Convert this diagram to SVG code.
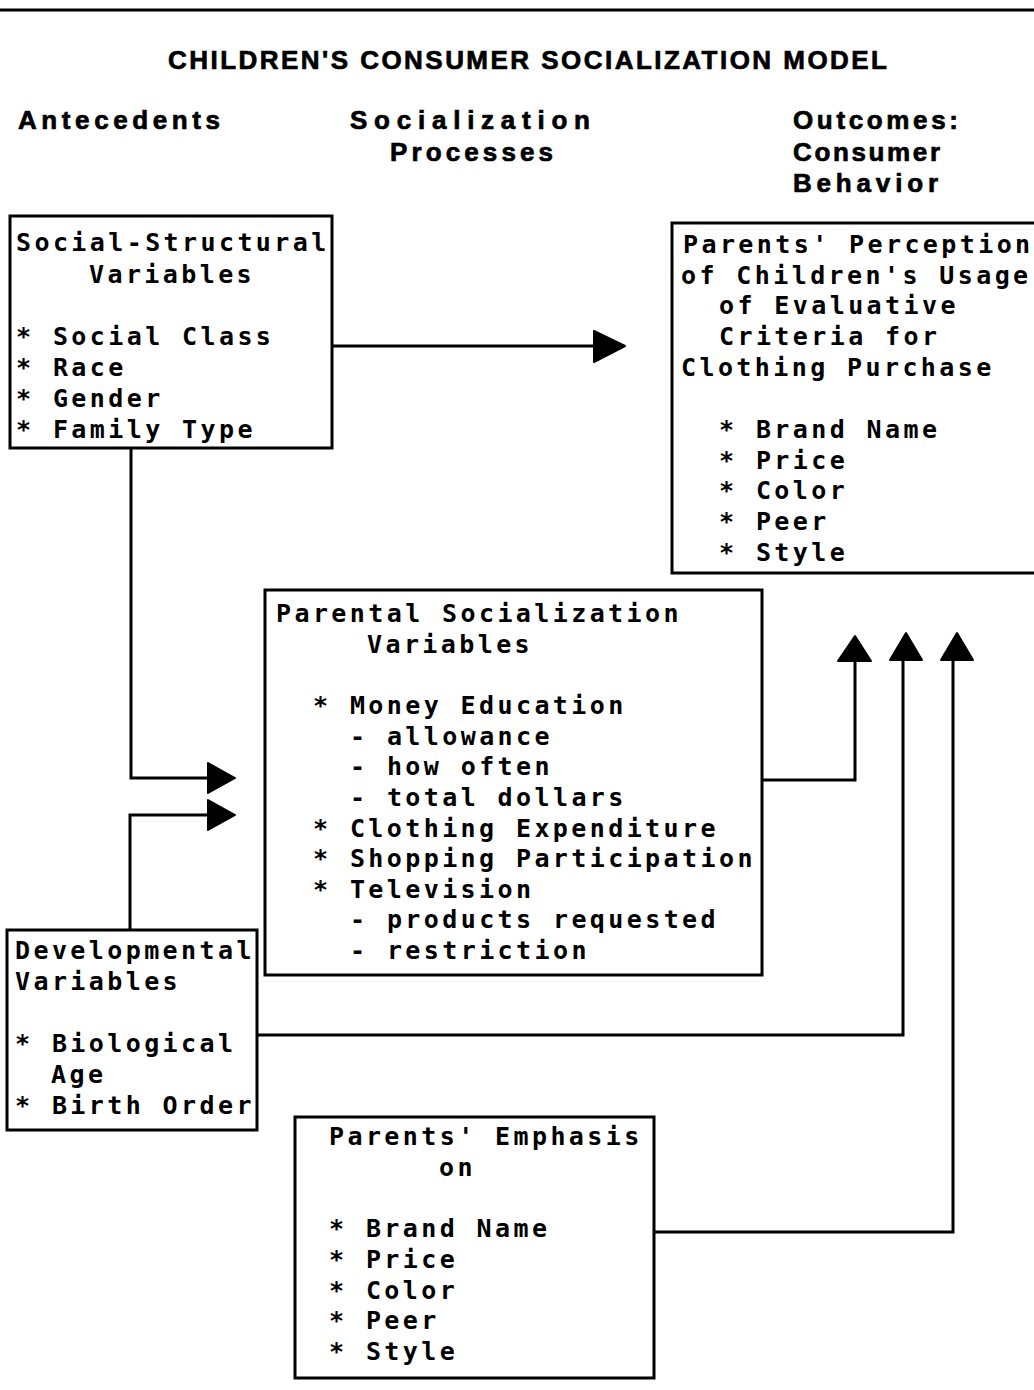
<svg xmlns="http://www.w3.org/2000/svg" width="1034" height="1390" viewBox="0 0 1034 1390">
<style>
.bg{fill:#fff}
.box{fill:none;stroke:#000;stroke-width:3}
.t{font-family:"DejaVu Sans Mono","Liberation Mono",monospace;font-weight:bold;font-size:25px;letter-spacing:3.4px;fill:#000}
.h{font-family:"Liberation Sans","Arial",sans-serif;font-weight:bold;font-size:26px;fill:#000;stroke:#000;stroke-width:0.7px}
.ti{font-family:"Liberation Sans","Arial",sans-serif;font-weight:bold;font-size:26px;fill:#000;stroke:#000;stroke-width:0.7px}
.c{fill:none;stroke:#000;stroke-width:3;stroke-linejoin:miter}
.ah{fill:#000;stroke:#000;stroke-width:2;stroke-linejoin:round}
</style>
<rect class="bg" x="0" y="0" width="1034" height="1390"/>
<line x1="0" y1="10" x2="1034" y2="10" stroke="#000" stroke-width="3"/>

<g id="title">
<text class="ti" x="168" y="69" textLength="719">CHILDREN'S CONSUMER SOCIALIZATION MODEL</text>
</g>
<g id="headers">
<text class="h" x="18" y="129" textLength="202">Antecedents</text>
<text class="h" x="350" y="129" textLength="240">Socialization</text>
<text class="h" x="390" y="161" textLength="163">Processes</text>
<text class="h" x="793" y="129" textLength="165">Outcomes:</text>
<text class="h" x="793" y="161" textLength="147">Consumer</text>
<text class="h" x="793" y="192" textLength="145">Behavior</text>
</g>

<g id="social-structural">
<rect class="box" x="10" y="216" width="322" height="232"/>
<text class="t" x="16" y="251">Social-Structural</text>
<text class="t" x="89" y="283">Variables</text>
<text class="t" x="16" y="345">* Social Class</text>
<text class="t" x="16" y="376">* Race</text>
<text class="t" x="16" y="407">* Gender</text>
<text class="t" x="16" y="438">* Family Type</text>
</g>

<g id="parents-perception">
<path class="box" d="M1040,223 H672 V573 H1040"/>
<text class="t" x="683" y="253">Parents' Perception</text>
<text class="t" x="681" y="284">of Children's Usage</text>
<text class="t" x="719" y="314">of Evaluative</text>
<text class="t" x="719" y="345">Criteria for</text>
<text class="t" x="681" y="376">Clothing Purchase</text>
<text class="t" x="719" y="438">* Brand Name</text>
<text class="t" x="719" y="469">* Price</text>
<text class="t" x="719" y="499">* Color</text>
<text class="t" x="719" y="530">* Peer</text>
<text class="t" x="719" y="561">* Style</text>
</g>

<g id="parental-socialization">
<rect class="box" x="265" y="590" width="497" height="385"/>
<text class="t" x="276" y="622">Parental Socialization</text>
<text class="t" x="367" y="653">Variables</text>
<text class="t" x="313" y="714">* Money Education</text>
<text class="t" x="350" y="745">- allowance</text>
<text class="t" x="350" y="775">- how often</text>
<text class="t" x="350" y="806">- total dollars</text>
<text class="t" x="313" y="837">* Clothing Expenditure</text>
<text class="t" x="313" y="867">* Shopping Participation</text>
<text class="t" x="313" y="898">* Television</text>
<text class="t" x="350" y="928">- products requested</text>
<text class="t" x="350" y="959">- restriction</text>
</g>

<g id="developmental">
<rect class="box" x="7" y="930" width="250" height="200"/>
<text class="t" x="15" y="959">Developmental</text>
<text class="t" x="15" y="990">Variables</text>
<text class="t" x="15" y="1052">* Biological</text>
<text class="t" x="51" y="1083">Age</text>
<text class="t" x="15" y="1114">* Birth Order</text>
</g>

<g id="parents-emphasis">
<rect class="box" x="295" y="1117" width="359" height="261"/>
<text class="t" x="329" y="1145">Parents' Emphasis</text>
<text class="t" x="439" y="1176">on</text>
<text class="t" x="329" y="1237">* Brand Name</text>
<text class="t" x="329" y="1268">* Price</text>
<text class="t" x="329" y="1299">* Color</text>
<text class="t" x="329" y="1329">* Peer</text>
<text class="t" x="329" y="1360">* Style</text>
</g>

<g id="connectors">
<path class="c" d="M332,346 H596"/>
<polygon class="ah" points="594,331 625,346 594,362"/>

<path class="c" d="M131,448 V778 H210"/>
<polygon class="ah" points="208,763 235,778 208,793"/>

<path class="c" d="M130,930 V815 H210"/>
<polygon class="ah" points="208,800 235,815 208,830"/>

<path class="c" d="M762,780 H855 V658"/>
<polygon class="ah" points="838,661 855,636 871,661"/>

<path class="c" d="M257,1035 H903 V658"/>
<polygon class="ah" points="890,660 906,633 922,660"/>

<path class="c" d="M654,1232 H953 V658"/>
<polygon class="ah" points="941,660 957,633 973,660"/>
</g>
</svg>
